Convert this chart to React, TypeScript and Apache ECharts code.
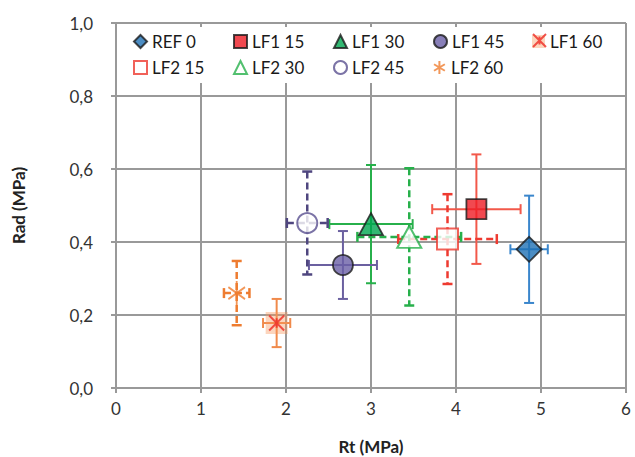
import React, { useEffect, useRef } from "react";
import * as echarts from "echarts";

// [x, y, xErr, yErr]
const REF0 = [4.86, 0.38, 0.22, 0.147];
const LF1_15 = [4.24, 0.49, 0.52, 0.15];
const LF2_15 = [3.9, 0.408, 0.58, 0.123];
const LF1_30 = [3.0, 0.449, 0.49, 0.162];
const LF2_30 = [3.45, 0.414, 0.61, 0.188];
const LF1_45 = [2.67, 0.337, 0.4, 0.093];
const LF2_45 = [2.25, 0.452, 0.24, 0.141];
const LF1_60 = [1.89, 0.178, 0.16, 0.066];
const LF2_60 = [1.42, 0.26, 0.15, 0.088];

const xTicks = [0, 6, 1];
const yTicks = [0, 1, 0.2];

const FONT = "Lato";
const ASTERISK = "path://M10,0L10,24M0,6L20,18M0,18L20,6";
const CROSS = "path://M0,0L16,16M0,16L16,0M8,3L8,13";

function errSeries(name: string, d: number[], color: string, dashed: boolean) {
  return {
    type: "custom",
    name,
    z: 2,
    data: [d],
    encode: { x: 0, y: 1 },
    silent: true,
    renderItem: (params: any, api: any) => {
      const x = api.value(0);
      const y = api.value(1);
      const ex = api.value(2);
      const ey = api.value(3);
      const l = api.coord([x - ex, y]);
      const r = api.coord([x + ex, y]);
      const t = api.coord([x, y + ey]);
      const b = api.coord([x, y - ey]);
      const h = 5;
      const lw = dashed ? 2.5 : 2;
      const style: any = { stroke: color, lineWidth: lw, fill: null };
      if (dashed) style.lineDash = [7, 4];
      const cap = { stroke: color, lineWidth: lw, fill: null };
      return {
        type: "group",
        children: [
          { type: "line", shape: { x1: l[0], y1: l[1], x2: r[0], y2: r[1] }, style },
          { type: "line", shape: { x1: t[0], y1: t[1], x2: b[0], y2: b[1] }, style },
          { type: "line", shape: { x1: l[0], y1: l[1] - h, x2: l[0], y2: l[1] + h }, style: cap },
          { type: "line", shape: { x1: r[0], y1: r[1] - h, x2: r[0], y2: r[1] + h }, style: cap },
          { type: "line", shape: { x1: t[0] - h, y1: t[1], x2: t[0] + h, y2: t[1] }, style: cap },
          { type: "line", shape: { x1: b[0] - h, y1: b[1], x2: b[0] + h, y2: b[1] }, style: cap },
        ],
      };
    },
  };
}

function pointSeries(name: string, d: number[], symbol: string, size: any, itemStyle: any, z = 3) {
  return {
    type: "scatter",
    name,
    z,
    data: [[d[0], d[1]]],
    symbol,
    symbolSize: size,
    symbolKeepAspect: true,
    itemStyle,
  };
}

function legendItem(name: string, left: number, top: number, hideText = false) {
  return {
    data: [name],
    left,
    top,
    padding: 0,
    itemWidth: 13,
    itemHeight: 13,
    selectedMode: false,
    formatter: hideText ? () => "" : undefined,
    textStyle: { fontFamily: FONT, fontSize: 17, color: "#1a1a1a" },
    z: 6,
  };
}

export default function App() {
  const ref = useRef<HTMLDivElement>(null);
  useEffect(() => {
    if (!ref.current) return;
    const chart = echarts.init(ref.current, undefined, { renderer: "svg" });
    const black = "#1a1a1a";
    const option: any = {
      animation: false,
      backgroundColor: "#ffffff",
      grid: { left: 116, right: 9, top: 23, bottom: 69, containLabel: false, outerBoundsMode: "none" },
      graphic: [
        {
          type: "rect",
          z: 1,
          shape: { x: 118, y: 27, width: 506, height: 56 },
          style: { fill: "#ffffff" },
        },
      ],
      legend: [
        legendItem("REF 0", 133, 33),
        legendItem("LF1 15", 233, 33),
        legendItem("LF1 30", 333, 33),
        legendItem("LF1 45", 433, 33),
        legendItem("LF1 60", 532, 33),
        legendItem("LF1 60 x", 532, 33, true),
        legendItem("LF2 15", 133, 59),
        legendItem("LF2 30", 233, 59),
        legendItem("LF2 45", 333, 59),
        legendItem("LF2 60", 433, 59),
      ],
      xAxis: {
        type: "value",
        min: xTicks[0],
        max: xTicks[1],
        interval: xTicks[2],
        name: "Rt (MPa)",
        nameLocation: "middle",
        nameGap: 50,
        nameTextStyle: { fontFamily: FONT, fontSize: 17, fontWeight: "bold", color: "#222" },
        axisLine: { show: true, onZero: false, lineStyle: { color: "#999", width: 2 } },
        axisTick: { show: true, length: 5, lineStyle: { color: "#999", width: 2 } },
        splitLine: { show: true, lineStyle: { color: "#999", width: 2 } },
        axisLabel: { fontFamily: FONT, fontSize: 17, color: "#333", margin: 12 },
      },
      yAxis: {
        type: "value",
        min: yTicks[0],
        max: yTicks[1],
        interval: yTicks[2],
        name: "Rad (MPa)",
        nameLocation: "middle",
        nameGap: 89,
        nameTextStyle: { fontFamily: FONT, fontSize: 17, fontWeight: "bold", color: "#222" },
        axisLine: { show: true, onZero: false, lineStyle: { color: "#999", width: 2 } },
        axisTick: { show: true, length: 5, lineStyle: { color: "#999", width: 2 } },
        splitLine: { show: true, lineStyle: { color: "#999", width: 2 } },
        axisLabel: {
          fontFamily: FONT,
          fontSize: 17,
          color: "#333",
          margin: 23,
          formatter: (v: number) => v.toFixed(1).replace(".", ","),
        },
      },
      series: [
        errSeries("REF 0 err", REF0, "#3a86cc", false),
        errSeries("LF1 15 err", LF1_15, "#f2584a", false),
        errSeries("LF2 15 err", LF2_15, "#ee3a30", true),
        errSeries("LF1 30 err", LF1_30, "#27b04b", false),
        errSeries("LF2 30 err", LF2_30, "#27b04b", true),
        errSeries("LF1 45 err", LF1_45, "#6b60a0", false),
        errSeries("LF2 45 err", LF2_45, "#4f467f", true),
        errSeries("LF1 60 err", LF1_60, "#f08a4b", false),
        errSeries("LF2 60 err", LF2_60, "#ee7c30", true),
        pointSeries("REF 0", REF0, "diamond", 25, { color: "#1f70b4", borderColor: black, borderWidth: 1.8 }),
        pointSeries("LF1 15", LF1_15, "rect", 20, { color: "#ed1c24", borderColor: black, borderWidth: 1.8 }),
        pointSeries("LF2 15", LF2_15, "rect", 21, { color: "#ffffff", borderColor: "#ee3a30", borderWidth: 2 }),
        pointSeries("LF1 30", LF1_30, "triangle", [24, 22], { color: "#00a650", borderColor: black, borderWidth: 1.8 }),
        pointSeries("LF2 30", LF2_30, "triangle", [24, 22], { color: "#ffffff", borderColor: "#27b04b", borderWidth: 2 }),
        pointSeries("LF1 45", LF1_45, "circle", 20, { color: "#6a5fa6", borderColor: black, borderWidth: 1.8 }),
        pointSeries("LF2 45", LF2_45, "circle", 20, { color: "#ffffff", borderColor: "#5a5090", borderWidth: 2 }),
        pointSeries("LF1 60", LF1_60, "rect", 22, { color: "rgba(247,150,90,0.5)", borderWidth: 0 }),
        pointSeries("LF1 60 x", LF1_60, CROSS, 15, { color: "transparent", borderColor: "#ee2a24", borderWidth: 2 }, 4),
        pointSeries("LF2 60", LF2_60, ASTERISK, [20, 24], { color: "transparent", borderColor: "#ef7d30", borderWidth: 2 }),
      ],
    };
    chart.setOption(option);
    return () => chart.dispose();
  }, []);
  return (
    <div
      ref={ref}
      style={{ position: "fixed", left: 0, top: 0, width: 635, height: 457 }}
    />
  );
}
